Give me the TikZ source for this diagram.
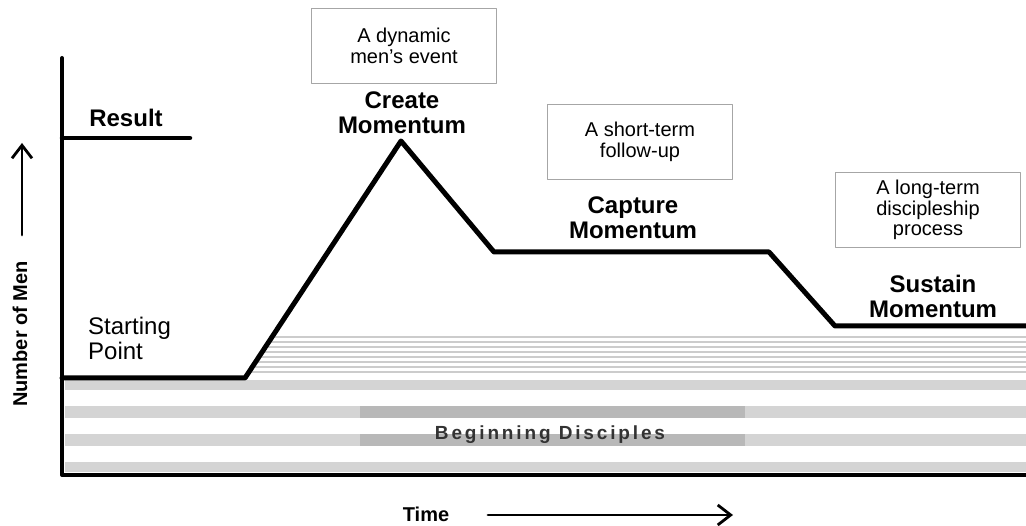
\documentclass[tikz,border=0pt]{standalone}
\usepackage{fontspec}
\setmainfont{Liberation Sans}
\newfontfamily\widefont[LetterSpace=15]{Liberation Sans}
\usetikzlibrary{arrows.meta,positioning}

\tikzset{
  phase/.style={font=\fontsize{24}{25}\selectfont\bfseries, align=center},
  note/.style={draw=gray!70, line width=1.5pt, minimum width=185pt, minimum height=75pt,
    align=center, font=\fontsize{20}{20.5}\selectfont},
  axislabel/.style={font=\fontsize{20}{21}\selectfont\bfseries},
  pointer/.style={line width=2.8pt, -{Straight Barb[length=13pt,width=20pt]}},
}

\begin{document}
\begin{tikzpicture}[x=1pt, y=-1pt, line cap=round, line join=round]
    \useasboundingbox (0,0) rectangle (1026,526);
    % grey bands for the disciples
    \fill[black!17] (65,380) rectangle (1026,390);
    \foreach \y in {406,434} {
      \fill[black!17] (65,\y) rectangle (1026,\y+12);
      \fill[black!28] (360,\y) rectangle (745,\y+12);
    }
    \fill[black!17] (65,462) rectangle (1026,472);

    % turning points of the curve
    \coordinate (start) at (62,378);
    \coordinate (rise) at (245,378);
    \coordinate (peak) at (401,141);
    \coordinate (drop) at (494,252);
    \coordinate (hold) at (769,252);
    \coordinate (fall) at (835,326);
    \coordinate (tail) at (1030,326);

    % thin stripes under the curve
    \begin{scope}
      \clip (rise) -- (peak) -- (drop) -- (hold) -- (fall) -- (tail) -- (1030,378) -- cycle;
      \foreach \y in {337,342,...,372}
        \draw[black!20, line width=2.5pt, line cap=butt] (240,\y) -- (1030,\y);
    \end{scope}

    % axes and curve
    \draw[line width=4pt] (62,58) -- (62,475) -- (1030,475);
    \draw[line width=5pt] (start) -- (rise) -- (peak) -- (drop) -- (hold) -- (fall) -- (tail);
    \coordinate (goal) at (62,138);
    \coordinate (goalend) at (190,138);
    \draw[line width=4.5pt] (goal) -- (goalend);

    \node[phase] (result) at (126,118) {Result};
    \node[font=\fontsize{24}{25}\selectfont, align=left, anchor=west, inner sep=0pt] (startpt) at (88,338) {Starting\\Point};
    \node[phase] (create) at (402,113) {Create\\Momentum};
    \node[phase] (capture) at (633,218) {Capture\\Momentum};
    \node[phase] (sustain) at (933,296) {Sustain\\Momentum};

    \node[note] (event) at (404,46) {A dynamic\\men's event};
    \node[note] (followup) at (640,142) {A short-term\\follow-up};
    \node[note] (process) at (928,210) {A long-term\\discipleship\\process};

    \node[font=\widefont\bfseries\fontsize{19}{20}\selectfont, text=black!80] (disciples) at (550,435) {Beginning Disciples};

    % axis names with their arrows
    \node[axislabel, rotate=90] (men) at (20,334) {Number of Men};
    \coordinate (upfrom) at (22,235);
    \coordinate (upto) at (22,143);
    \draw[pointer] (upfrom) -- (upto);
    \node[axislabel] (time) at (426,514) {Time};
    \coordinate (rightfrom) at (488,515);
    \coordinate (rightto) at (733,515);
    \draw[pointer] (rightfrom) -- (rightto);
\end{tikzpicture}
\end{document}
